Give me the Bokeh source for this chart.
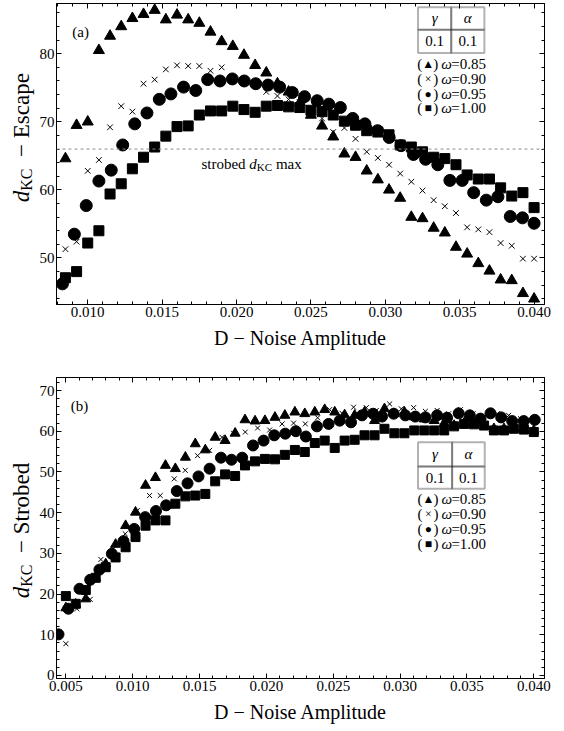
from math import pi
from bokeh.plotting import figure
from bokeh.layouts import column, row
from bokeh.models import (Range1d, LinearAxis, FixedTicker, PrintfTickFormatter,
                          CustomJSTickFormatter, Span, Label, BoxAnnotation)
from bokeh.embed import file_html
from bokeh.resources import INLINE

FONT = "Liberation Serif"

# ---------------- panel (a): d_KC - Escape ----------------
D_a = [0.00850, 0.00925, 0.01000, 0.01075, 0.01150, 0.01225, 0.01300, 0.01375, 0.01450,
       0.01525, 0.01600, 0.01675, 0.01750, 0.01825, 0.01900, 0.01975, 0.02050, 0.02125,
       0.02200, 0.02275, 0.02350, 0.02425, 0.02500, 0.02575, 0.02650, 0.02725, 0.02800,
       0.02875, 0.02950, 0.03025, 0.03100, 0.03175, 0.03250, 0.03325, 0.03400, 0.03475,
       0.03550, 0.03625, 0.03700, 0.03775, 0.03850, 0.03925, 0.04000]
esc_085 = [64.6, 69.5, 70.0, 80.5, 82.6, 84.0, 85.2, 85.8, 86.4, 85.0, 85.7, 85.0, 84.5,
           83.2, 81.8, 81.1, 79.8, 78.3, 77.2, 75.6, 74.4, 72.8, 71.0, 69.4, 67.8, 65.3,
           64.8, 62.8, 61.5, 60.0, 58.8, 56.0, 55.8, 54.4, 53.7, 51.6, 50.6, 49.2, 48.1,
           46.8, 46.7, 44.8, 44.0]
esc_090 = [51.3, 52.4, 62.8, 64.4, 69.2, 72.3, 71.5, 75.6, 76.2, 77.7, 78.3, 78.2, 78.2,
           77.5, 78.0, 76.4, 75.9, 75.3, 74.4, 73.8, 73.3, 72.9, 71.7, 70.5, 68.5, 69.1,
           67.5, 65.6, 64.7, 63.7, 62.4, 61.2, 59.9, 58.5, 57.6, 56.6, 54.5, 54.2, 53.8,
           52.2, 51.8, 49.9, 49.9]
esc_100 = [47.1, 48.0, 52.2, 54.0, 59.4, 60.9, 63.1, 64.8, 66.3, 67.9, 69.3, 69.4, 71.0,
           71.6, 71.6, 72.3, 71.8, 71.4, 72.3, 72.4, 72.2, 72.1, 71.7, 71.5, 71.0, 70.1,
           69.5, 68.7, 68.5, 68.1, 66.6, 66.3, 65.6, 64.8, 64.6, 63.7, 62.2, 61.6, 61.6,
           60.3, 59.1, 59.6, 57.4]
D_a095 = [0.00830, 0.00910, 0.00990, 0.01075, 0.01158, 0.01235, 0.01316, 0.01398, 0.01481,
          0.01559, 0.01644, 0.01726, 0.01806, 0.01889, 0.01972, 0.02052, 0.02129, 0.02212,
          0.02290, 0.02375, 0.02457, 0.02542, 0.02620, 0.02698, 0.02781, 0.02863, 0.02948,
          0.03026, 0.03106, 0.03189, 0.03271, 0.03353, 0.03434, 0.03517, 0.03594, 0.03679,
          0.03757, 0.03840, 0.03922, 0.04000]
esc_095 = [46.2, 53.5, 57.7, 61.3, 62.9, 66.6, 69.7, 71.3, 73.3, 74.1, 75.1, 74.6, 76.2,
           76.0, 76.3, 76.0, 75.6, 75.4, 75.1, 74.3, 73.7, 73.1, 72.6, 72.1, 70.5, 69.7,
           68.7, 67.7, 66.5, 65.2, 64.5, 63.7, 61.4, 61.4, 59.6, 58.5, 59.0, 56.1, 55.9,
           55.1]
strobed_max = 66.0

# ---------------- panel (b): d_KC - Strobed ----------------
D_b = [0.00500, 0.00574, 0.00649, 0.00723, 0.00798, 0.00872, 0.00947, 0.01021, 0.01096,
       0.01170, 0.01245, 0.01319, 0.01394, 0.01468, 0.01543, 0.01617, 0.01691, 0.01766,
       0.01840, 0.01915, 0.01989, 0.02064, 0.02138, 0.02213, 0.02287, 0.02362, 0.02436,
       0.02511, 0.02585, 0.02660, 0.02734, 0.02809, 0.02883, 0.02957, 0.03032, 0.03106,
       0.03181, 0.03255, 0.03330, 0.03404, 0.03479, 0.03553, 0.03628, 0.03702, 0.03777,
       0.03851, 0.03926, 0.04000]
str_085 = [16.6, 17.5, 18.8, 24.0, 27.4, 32.2, 36.8, 40.1, 46.7, 48.6, 51.6, 50.8, 53.6,
           56.9, 55.4, 58.5, 57.7, 59.5, 62.8, 62.5, 62.6, 63.4, 63.9, 64.7, 64.3, 64.7,
           65.3, 64.7, 64.0, 63.9, 64.7, 62.6, 65.5, 64.3, 64.7, 63.5, 63.0, 62.6, 62.0,
           61.4, 62.0, 61.8, 61.4, 60.6, 60.6, 60.6, 60.6, 60.2]
str_100 = [19.5, 17.6, 21.0, 24.0, 26.6, 29.0, 31.5, 34.0, 36.8, 38.1, 38.1, 42.2, 44.0,
           44.2, 44.6, 47.7, 49.4, 49.0, 51.6, 52.6, 53.2, 53.1, 54.2, 55.4, 54.9, 57.1,
           57.7, 55.9, 57.7, 57.9, 59.0, 59.0, 60.6, 59.5, 59.5, 60.2, 60.2, 60.2, 60.2,
           61.2, 61.8, 61.7, 61.4, 60.2, 60.2, 60.6, 60.4, 59.8]
D_b090 = [0.00500, 0.00582, 0.00682, 0.00762, 0.00852, 0.00944, 0.01034, 0.01126, 0.01206,
          0.01311, 0.01393, 0.01485, 0.01575, 0.01668, 0.01754, 0.01842, 0.01934, 0.02024,
          0.02117, 0.02203, 0.02291, 0.02383, 0.02473, 0.02566, 0.02652, 0.02747, 0.02822,
          0.02922, 0.03009, 0.03101, 0.03189, 0.03277, 0.03363, 0.03451, 0.03546, 0.03625,
          0.03726, 0.03812, 0.03900, 0.03975]
str_090 = [7.8, 16.4, 18.7, 28.5, 31.0, 34.8, 40.5, 44.2, 44.2, 48.3, 50.4, 54.0, 55.3,
           58.5, 59.5, 59.8, 60.8, 60.3, 61.8, 62.0, 61.8, 63.3, 65.3, 64.4, 65.9, 65.8,
           65.1, 66.7, 65.5, 65.8, 64.9, 65.1, 64.3, 65.3, 64.3, 63.4, 64.3, 63.9, 63.1,
           62.6]
D_b095 = [0.00445, 0.00519, 0.00602, 0.00682, 0.00751, 0.00844, 0.00931, 0.01011, 0.01093,
          0.01174, 0.01250, 0.01330, 0.01410, 0.01492, 0.01575, 0.01660, 0.01739, 0.01819,
          0.01900, 0.01979, 0.02059, 0.02141, 0.02220, 0.02295, 0.02378, 0.02465, 0.02548,
          0.02633, 0.02715, 0.02798, 0.02865, 0.02952, 0.03039, 0.03114, 0.03189, 0.03277,
          0.03351, 0.03438, 0.03521, 0.03601, 0.03676, 0.03756, 0.03838, 0.03925, 0.04007]
str_095 = [10.1, 16.4, 21.3, 23.5, 26.0, 29.9, 33.0, 36.0, 38.9, 40.4, 41.8, 45.3, 47.2,
           48.9, 50.8, 53.5, 53.0, 53.5, 56.5, 57.7, 59.0, 59.4, 60.0, 58.7, 61.2, 61.8,
           62.6, 62.2, 63.9, 64.3, 63.6, 64.3, 63.9, 63.6, 63.4, 63.9, 63.3, 64.4, 63.9,
           63.1, 64.4, 63.4, 62.5, 62.5, 62.8]

legend_omegas = ["0.85", "0.90", "0.95", "1.00"]
legend_symbols = ["\u25B2", "\u00D7", "\u25CF", "\u25A0"]
table_head = ["\u03B3", "\u03B1"]
table_vals = ["0.1", "0.1"]

x_ticks_a = [0.010, 0.015, 0.020, 0.025, 0.030, 0.035, 0.040]
x_ticks_b = [0.005, 0.010, 0.015, 0.020, 0.025, 0.030, 0.035, 0.040]
x_minor = [round(0.004 + 0.001 * i, 3) for i in range(38)]
y_ticks_a = [50, 60, 70, 80]
y_ticks_b = [0, 10, 20, 30, 40, 50, 60, 70]
y_minor = list(range(0, 92, 2))

SIDE = 36  # width of the strip that holds the rotated y titles


def style_axis(ax, ticks, minor, fmt, show):
    ax.ticker = FixedTicker(ticks=ticks, minor_ticks=minor)
    ax.axis_line_color = "black"
    ax.axis_line_width = 1
    ax.major_tick_in = 5
    ax.major_tick_out = 0
    ax.minor_tick_in = 3
    ax.minor_tick_out = 0
    ax.major_tick_line_color = "black"
    ax.minor_tick_line_color = "black"
    ax.major_label_text_font = FONT
    ax.major_label_text_font_size = "15px"
    ax.major_label_text_color = "black"
    ax.major_label_standoff = 2
    if show:
        ax.formatter = PrintfTickFormatter(format=fmt)
    else:
        ax.formatter = CustomJSTickFormatter(code="return ''")
        ax.major_label_standoff = 0


def make_panel(xr, yr, xt, yt, fmt_y, h, top, bottom, left):
    p = figure(width=564 - SIDE, height=h, x_range=Range1d(*xr), y_range=Range1d(*yr),
               output_backend="svg", toolbar_location=None,
               min_border_left=left - SIDE, min_border_right=20,
               min_border_top=top, min_border_bottom=bottom)
    p.xgrid.visible = False
    p.ygrid.visible = False
    p.outline_line_color = "black"
    bottom_ax = p.below[0]
    left_ax = p.left[0]
    style_axis(bottom_ax, xt, x_minor, "%.3f", True)
    style_axis(left_ax, yt, y_minor, fmt_y, True)
    bottom_ax.axis_label = "D \u2212 Noise Amplitude"
    bottom_ax.axis_label_text_font = FONT
    bottom_ax.axis_label_text_font_size = "20px"
    bottom_ax.axis_label_text_font_style = "normal"
    bottom_ax.axis_label_text_color = "black"
    bottom_ax.axis_label_standoff = 7
    top_ax = LinearAxis()
    right_ax = LinearAxis()
    style_axis(top_ax, xt, x_minor, "%.3f", False)
    style_axis(right_ax, yt, y_minor, fmt_y, False)
    p.add_layout(top_ax, "above")
    p.add_layout(right_ax, "right")
    return p


def series(p, xs, ys, sizes):
    st, sx, sc, ss = sizes
    p.scatter(xs[0], ys[0], marker="triangle", size=st, fill_color="black", line_color="black")
    p.scatter(xs[1], ys[1], marker="x", size=sx, line_color="black", line_width=1)
    p.scatter(xs[2], ys[2], marker="circle", size=sc, fill_color="black", line_color="black")
    p.scatter(xs[3], ys[3], marker="square", size=ss, fill_color="black", line_color="black")


def txt(p, x, y, text, dx=0, dy=0, size="15px", style="normal", align="left",
        baseline="middle", angle=0):
    p.add_layout(Label(x=x, y=y, text=text, x_offset=dx, y_offset=dy, text_font=FONT,
                       text_font_size=size, text_font_style=style, text_align=align,
                       text_baseline=baseline, text_color="black", angle=angle))


def side_title(h, yc_from_top, word):
    s = figure(width=SIDE, height=h, x_range=Range1d(0, SIDE), y_range=Range1d(0, h),
               output_backend="svg", toolbar_location=None, min_border=0)
    s.axis.visible = False
    s.xgrid.visible = False
    s.ygrid.visible = False
    s.outline_line_color = None
    fs = 23
    sub = 16
    wlen = {"Escape": 2.832, "Strobed": 3.111}[word] * fs + 1.35 * fs
    total = 0.5 * fs + 1.389 * sub + wlen
    yc = h - yc_from_top
    st = -total / 2
    xc = 21
    txt(s, xc, yc, "d", dy=st, size="%dpx" % fs, style="italic", angle=pi / 2)
    txt(s, xc, yc, "KC", dx=5, dy=st + 0.5 * fs, size="%dpx" % sub, angle=pi / 2)
    txt(s, xc, yc, "\u2002\u2212 " + word, dy=st + 0.5 * fs + 1.389 * sub,
        size="%dpx" % fs, angle=pi / 2)
    return s


def legend(p, x0, x1, xm, y0, ym, y1, rows):
    for (a, b) in [(x0, xm), (xm, x1)]:
        for (c, d) in [(ym, y0), (y1, ym)]:
            p.add_layout(BoxAnnotation(left=a, right=b, bottom=c, top=d, fill_alpha=0,
                                       line_color="black", line_width=2))
    cx = [(x0 + xm) / 2, (xm + x1) / 2]
    txt(p, cx[0], (y0 + ym) / 2, table_head[0], size="15px", style="italic", align="center")
    txt(p, cx[1], (y0 + ym) / 2, table_head[1], size="15px", style="italic", align="center")
    txt(p, cx[0], (ym + y1) / 2, table_vals[0], size="15px", align="center")
    txt(p, cx[1], (ym + y1) / 2, table_vals[1], size="15px", align="center")
    xc = (x0 + x1) / 2
    for sym, om, yy in zip(legend_symbols, legend_omegas, rows):
        txt(p, xc, yy, ")", dx=-13, align="right")
        txt(p, xc, yy, sym, dx=-23, align="center", size="12px")
        txt(p, xc, yy, "(", dx=-29, align="right")
        txt(p, xc, yy, "\u03C9", dx=-10, style="italic")
        txt(p, xc, yy, "=" + om, dx=0)


# ---- panel (a)
pa = make_panel((0.0079, 0.0407), (43.17, 87.38), x_ticks_a, y_ticks_a, "%d",
                360, 3, 56, 54)
series(pa, [D_a, D_a, D_a095, D_a], [esc_085, esc_090, esc_095, esc_100], (11, 8, 12, 10))
pa.add_layout(Span(location=strobed_max, dimension="width", line_color="#8c8c8c",
                   line_dash="3 3", line_width=1))
sx_, sy_ = 0.0210, 63.8
txt(pa, sx_, sy_, "strobed", dx=-50)
txt(pa, sx_, sy_, "d", dx=-2.1, style="italic")
txt(pa, sx_, sy_, "KC", dx=5.4, dy=-3, size="11px")
txt(pa, sx_, sy_, "max", dx=24.5)
txt(pa, 0.00952, 83.2, "(a)", size="15px", align="center")
legend(pa, 0.03220, 0.03666, 0.03443, 86.84, 83.53, 80.10, [78.55, 76.36, 74.16, 71.96])
sa = side_title(360, 160, "Escape")

# ---- panel (b)
pb = make_panel((0.0043, 0.0408), (-0.74, 73.2), x_ticks_b, y_ticks_b, "%d",
                371, 17, 53, 55)
series(pb, [D_b, D_b090, D_b095, D_b], [str_085, str_090, str_095, str_100], (10, 7, 11, 9))
txt(pb, 0.00602, 66.3, "(b)", size="15px", align="center")
legend(pb, 0.03134, 0.03633, 0.03389, 57.31, 51.34, 45.86, [43.4, 39.7, 36.0, 32.3])
sb = side_title(371, 188, "Strobed")

layout = column(row(sa, pa), row(sb, pb))
open("out.html", "w").write(file_html(layout, INLINE))
